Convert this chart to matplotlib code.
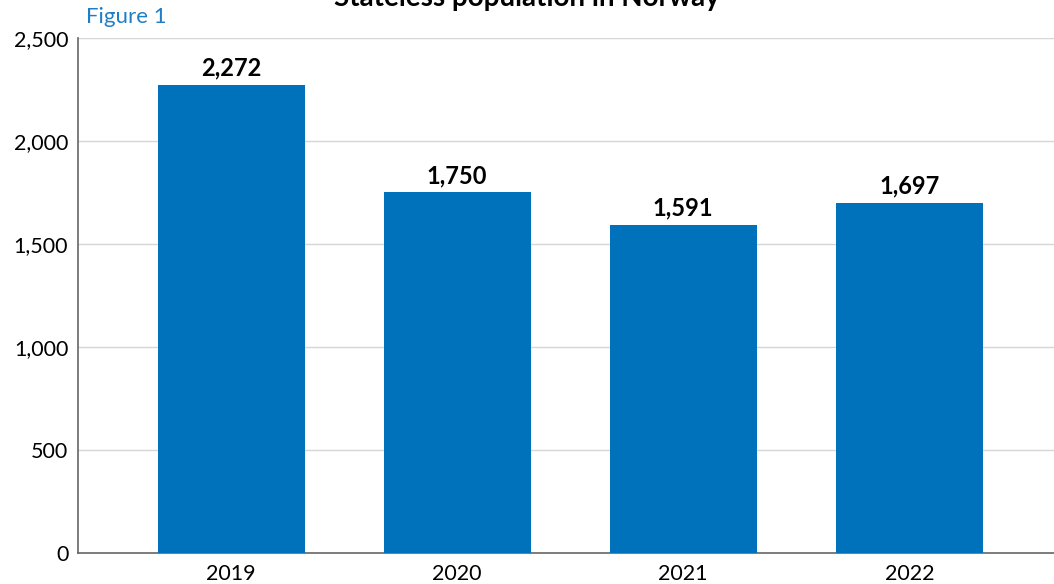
import matplotlib.pyplot as plt
from matplotlib.ticker import FuncFormatter

plt.rcParams['font.family'] = ['Lato', 'DejaVu Sans']

# Data
years = ["2019", "2020", "2021", "2022"]
stateless = [2272, 1750, 1591, 1697]

bar_color = "#0072BC"

fig = plt.figure(figsize=(10.54, 5.84), dpi=100)
ax = fig.add_axes([78 / 1054, 1 - 553 / 584, 1 - 78 / 1054, (553 - 38) / 584])

x = range(len(years))
bars = ax.bar(x, stateless, width=0.65, color=bar_color, zorder=3)

for rect, val in zip(bars, stateless):
    ax.annotate(f"{val:,}", (rect.get_x() + rect.get_width() / 2, val),
                xytext=(0, 4), textcoords="offset points",
                ha="center", va="bottom", fontsize=17, fontweight="bold")

ax.set_xlim(-0.677, 3.64)
ax.set_ylim(0, 2500)
ax.set_yticks([0, 500, 1000, 1500, 2000, 2500])
ax.yaxis.set_major_formatter(FuncFormatter(lambda v, p: f"{int(v):,}"))
ax.set_xticks(list(x))
ax.set_xticklabels(years)
ax.tick_params(axis="both", length=0, labelsize=15.5, pad=8)
ax.tick_params(axis="y", pad=7)

ax.grid(axis="y", color="#d6d6d6", linewidth=1, zorder=0)
for s in ["top", "right"]:
    ax.spines[s].set_visible(False)
for s in ["left", "bottom"]:
    ax.spines[s].set_color("#666666")
    ax.spines[s].set_linewidth(1.2)

fig.text(0.5, 1 - 6 / 584, "Stateless population in Norway", ha="center",
         va="baseline", fontsize=20, fontweight="bold")
fig.text(86 / 1054, 1 - 23 / 584, "Figure 1", ha="left", va="baseline",
         fontsize=16, color="#1f7fc4")

plt.savefig("out.png", dpi=100)
